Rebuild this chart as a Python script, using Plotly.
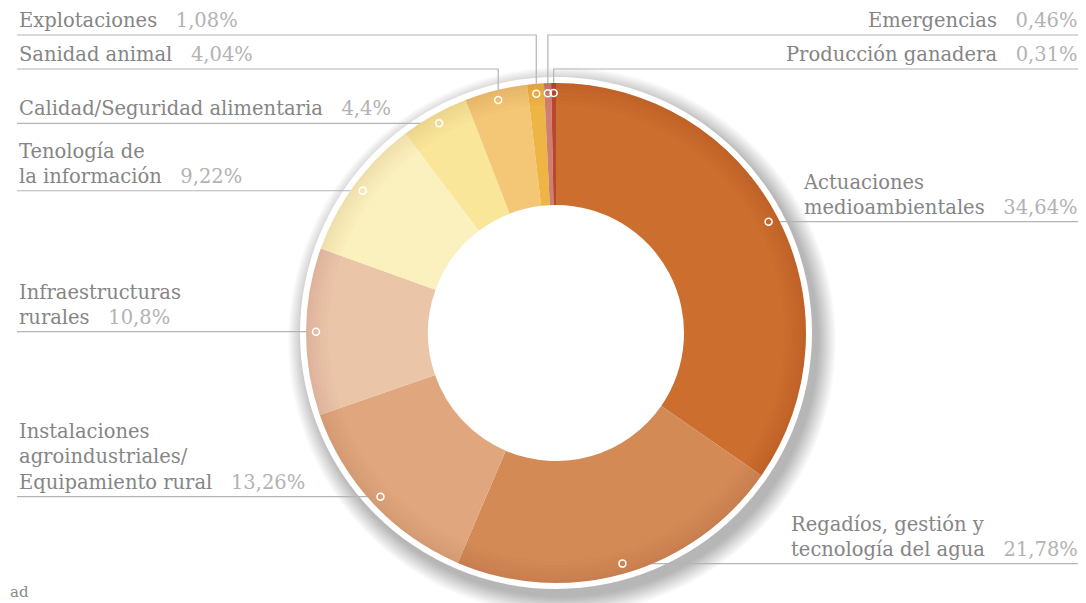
import math
import plotly.graph_objects as go

# datos
categorias = ["Actuaciones<br>medioambientales",
              "Regadíos, gestión y<br>tecnología del agua",
              "Instalaciones<br>agroindustriales/<br>Equipamiento rural",
              "Infraestructuras<br>rurales",
              "Tenología de<br>la información",
              "Calidad/Seguridad alimentaria",
              "Sanidad animal",
              "Explotaciones",
              "Emergencias",
              "Producción ganadera"]
valores = [34.64, 21.78, 13.26, 10.8, 9.22, 4.4, 4.04, 1.08, 0.46, 0.31]
colores = ["#CC6E2E", "#D48A55", "#E0A77F", "#EAC5A8", "#FBF1BE",
           "#F9E699", "#F3C775", "#EDB544", "#CF7F6F", "#B9472F"]

# lado de la etiqueta y altura de la linea (None = a la altura del punto)
lado = ["right", "right", "left", "left", "left", "left", "left", "left", "right", "right"]
linea_y = [None, None, None, None, None, None, 69, 35, 35, 69]

W, H = 1086, 603
M = 8                      # margen del body de la pagina
FW, FH = W - M, H - M
cx, cy = 556, 333
R = 250          # radio del donut
R_blanco = 256   # aro blanco
r_punto = 240    # radio de los puntos de etiqueta

fig = go.Figure()

# ejes invisibles en pixeles de pagina para lineas y textos
fig.update_xaxes(range=[M, W], visible=False, fixedrange=True)
fig.update_yaxes(range=[H, M], visible=False, fixedrange=True)

# sombra + aro blanco
shapes = []
for k in range(18, -1, -1):
    shapes.append(dict(type="circle", xref="x", yref="y", layer="below",
                       x0=cx + 6 - R_blanco - k, x1=cx + 6 + R_blanco + k,
                       y0=cy + 8 - R_blanco - k, y1=cy + 8 + R_blanco + k,
                       fillcolor="rgba(0,0,0,0.016)", line=dict(width=0)))
shapes.append(dict(type="circle", xref="x", yref="y", layer="below",
                   x0=cx - R_blanco, x1=cx + R_blanco,
                   y0=cy - R_blanco, y1=cy + R_blanco,
                   fillcolor="white", line=dict(width=0)))

fig.add_trace(go.Pie(
    values=valores, labels=categorias, sort=False, direction="clockwise",
    rotation=0, hole=0.512, textinfo="none", hoverinfo="label+percent",
    marker=dict(colors=colores, line=dict(width=0)),
    domain=dict(x=[(cx - R - M) / FW, (cx + R - M) / FW],
                y=[(H - cy - R) / FH, (H - cy + R) / FH]),
    showlegend=False,
))

# oscurecimiento suave del borde
for w in [22, 18, 14, 10, 6, 3]:
    shapes.append(dict(type="circle", xref="x", yref="y", layer="above",
                       x0=cx - R + w / 2, x1=cx + R - w / 2,
                       y0=cy - R + w / 2, y1=cy + R - w / 2,
                       line=dict(width=w, color="rgba(70,35,0,0.012)")))

total = sum(valores)
acum = 0
anotaciones = []
for nombre, v, l, ly in zip(categorias, valores, lado, linea_y):
    ang = math.radians((acum + v / 2) / total * 360)
    acum += v
    px_ = cx + r_punto * math.sin(ang)
    py_ = cy - r_punto * math.cos(ang)
    yl = py_ if ly is None else ly
    x_fin = 17 if l == "left" else 1080
    fig.add_trace(go.Scatter(x=[x_fin, px_, px_], y=[yl, yl, py_], mode="lines",
                             line=dict(color="#b4b4b4", width=1.2),
                             hoverinfo="skip", showlegend=False))
    shapes.append(dict(type="circle", xref="x", yref="y", layer="above",
                       x0=px_ - 3.5, x1=px_ + 3.5, y0=py_ - 3.5, y1=py_ + 3.5,
                       line=dict(color="white", width=1.5)))
    pct = str(v).replace(".", ",") + "%"
    texto = nombre + "<span style='color:#b3b3b3'>&nbsp;&nbsp;&nbsp;" + pct + "</span>"
    anotaciones.append(dict(x=x_fin, y=yl - 1, xref="x", yref="y", text=texto,
                            showarrow=False, align="left",
                            xanchor=l, yanchor="bottom",
                            font=dict(family="DejaVu Serif", size=19.5, color="#858585")))

# resto de la nota de fuente en la esquina
anotaciones.append(dict(x=M, y=592, xref="x", yref="y", text="ad", showarrow=False,
                        xanchor="left", yanchor="middle",
                        font=dict(family="DejaVu Serif", size=15, color="#8a8a8a")))

fig.update_layout(
    width=FW, height=FH,
    margin=dict(l=0, r=0, t=0, b=0),
    paper_bgcolor="white", plot_bgcolor="white",
    shapes=shapes, annotations=anotaciones,
)

fig.write_html("out.html")
